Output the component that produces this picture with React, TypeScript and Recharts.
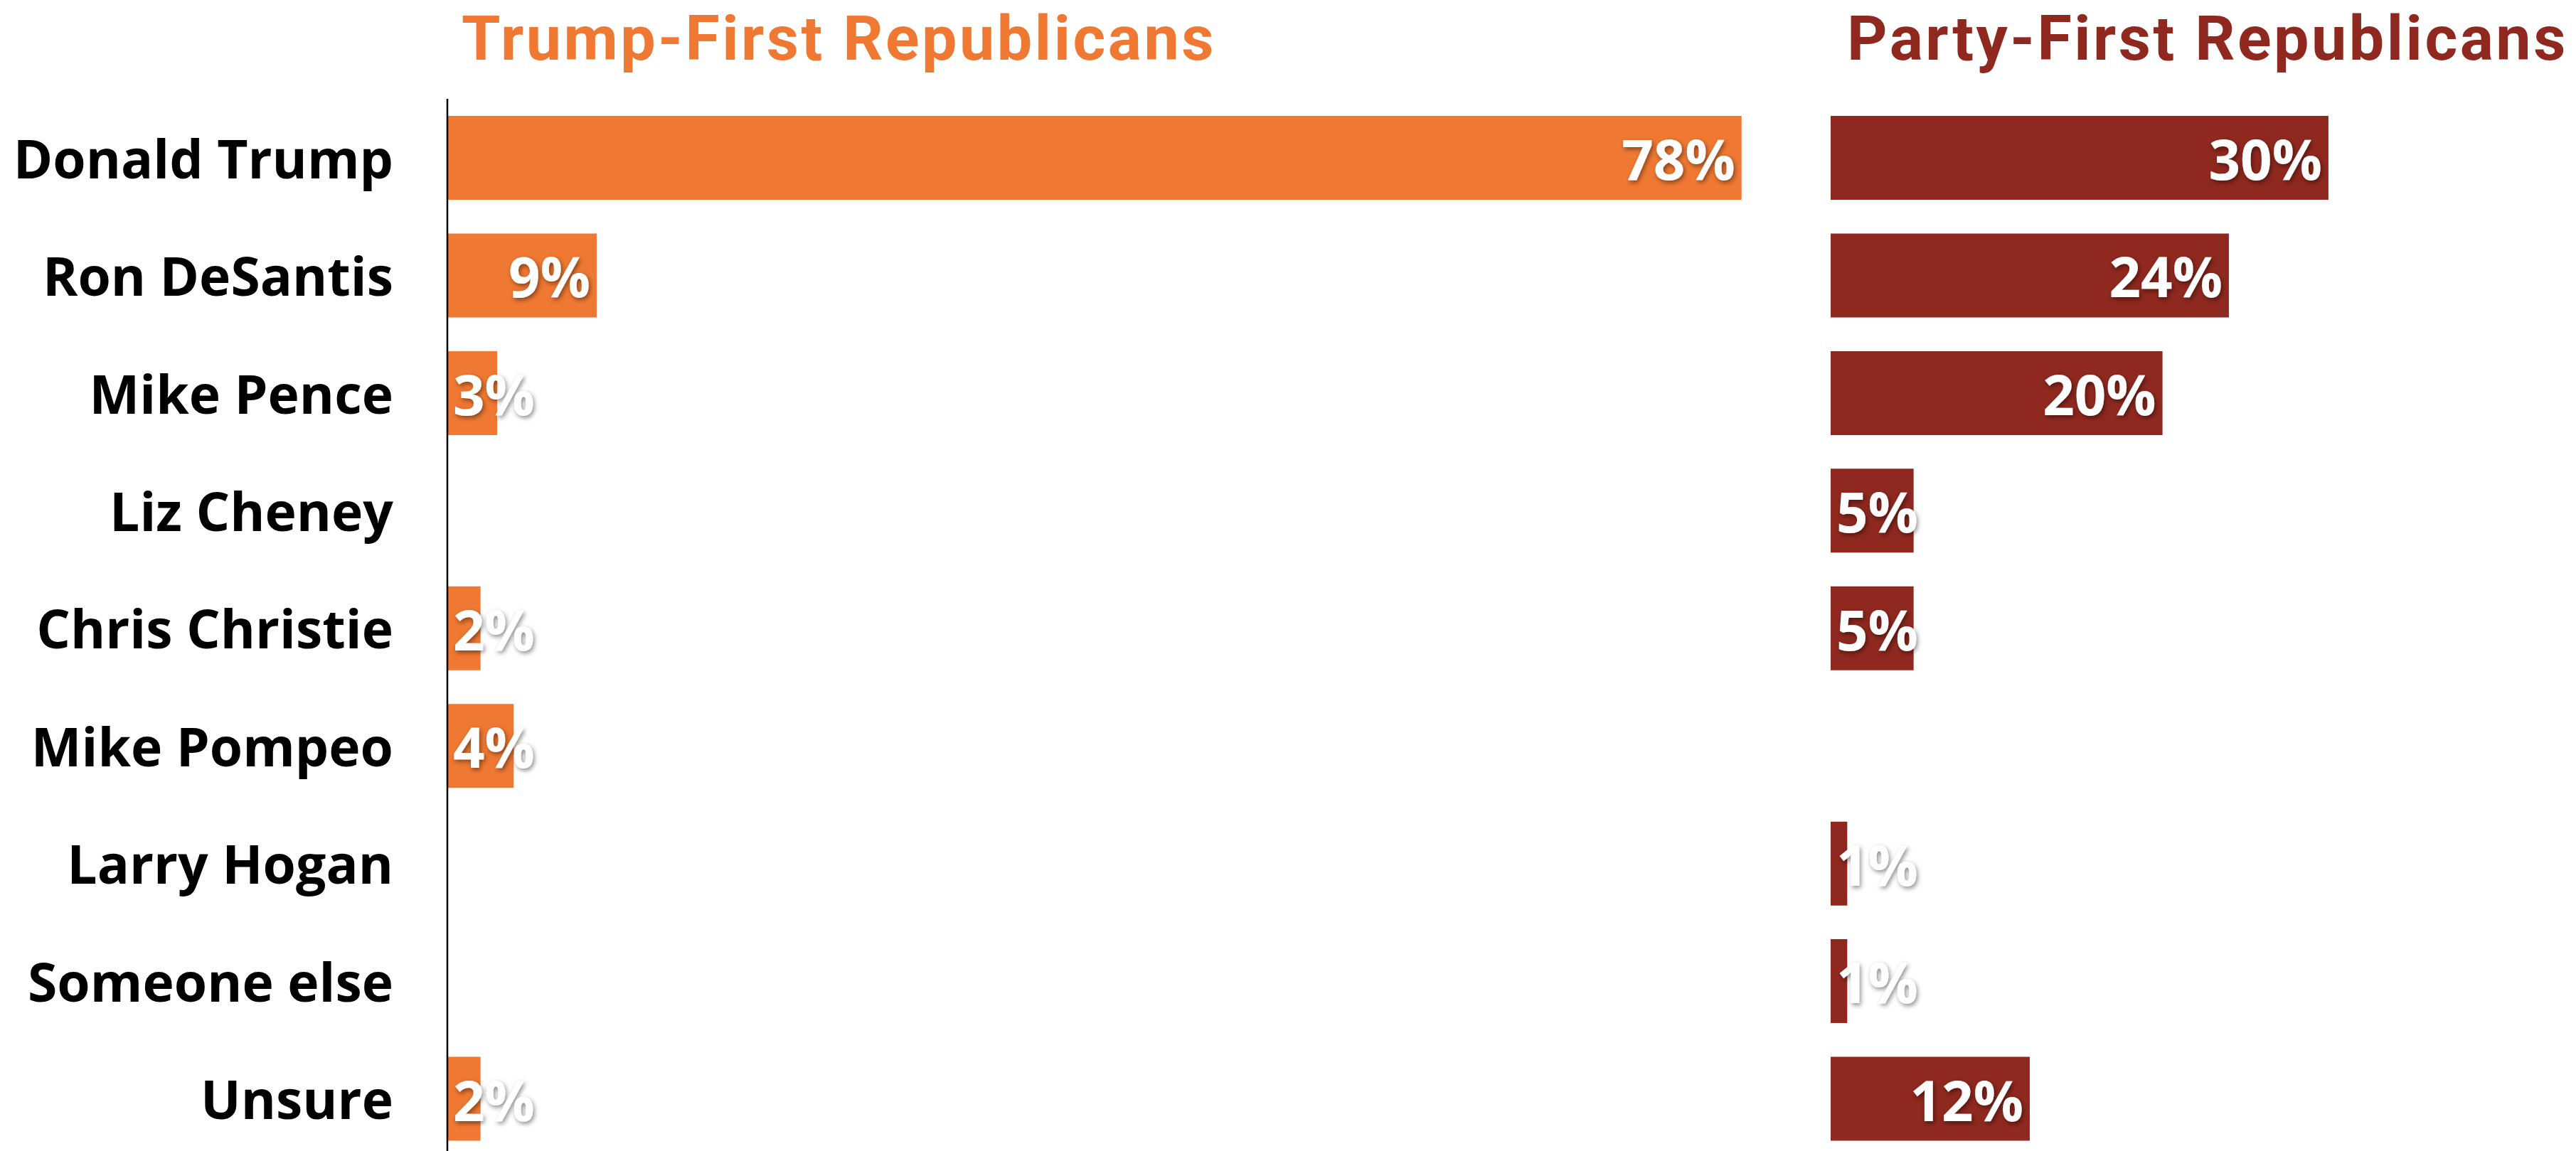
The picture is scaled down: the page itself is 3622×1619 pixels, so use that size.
import React from 'react';
import { BarChart, Bar, XAxis, YAxis, LabelList } from 'recharts';

const candidates = [
  'Donald Trump',
  'Ron DeSantis',
  'Mike Pence',
  'Liz Cheney',
  'Chris Christie',
  'Mike Pompeo',
  'Larry Hogan',
  'Someone else',
  'Unsure',
];
const trumpFirst = [78, 9, 3, 0, 2, 4, 0, 0, 2];
const partyFirst = [30, 24, 20, 5, 5, 0, 1, 1, 12];

const ORANGE = '#EF7832';
const DARK_RED = '#8F281E';
const FONT = '"Open Sans", Roboto, sans-serif';
const TITLE_FONT = 'Roboto, "Open Sans", sans-serif';

const data = candidates.map((name, i) => ({
  name,
  trump: trumpFirst[i],
  party: partyFirst[i],
}));

const PX_PER_PCT = 23.33;
const CHART_H = 1628;
const TOP = 139;

const renderValue = (props: any) => {
  const { x, y, width, height, value } = props;
  if (!value) return null;
  const textW = String(value).length * 52 + 70;
  const inside = width >= textW + 18;
  return (
    <text
      x={inside ? x + width - 9 : x + 8}
      y={y + height / 2 + 31}
      textAnchor={inside ? 'end' : 'start'}
      fill="#fff"
      fontFamily={FONT}
      fontSize={78}
      fontWeight={700}
      filter="url(#valShadow)"
    >
      {value}%
    </text>
  );
};

const CategoryTick = (props: any) => {
  const { y, payload } = props;
  return (
    <text
      x={553}
      y={y + 29}
      textAnchor="end"
      fill="#000"
      fontFamily={FONT}
      fontSize={75}
      fontWeight={700}
    >
      {payload.value}
    </text>
  );
};

const Shadow = () => (
  <defs>
    <filter id="valShadow" x="-20%" y="-30%" width="140%" height="160%">
      <feDropShadow dx="2" dy="3" stdDeviation="3" floodColor="#000" floodOpacity="0.45" />
    </filter>
  </defs>
);

// Roboto metrics: baseline sits about 74px below the top of a 88px line-height:1 box
const titleStyle = (color: string, left: number): React.CSSProperties => ({
  position: 'absolute',
  left,
  top: 10,
  fontFamily: TITLE_FONT,
  fontWeight: 700,
  fontSize: 88,
  lineHeight: 1,
  letterSpacing: 3.5,
  color,
  whiteSpace: 'nowrap',
});

const App = () => {
  const leftDomainMax = 80;
  const rightDomainMax = 44;
  const leftAxisX = 629;
  const rightAxisX = 2574;
  return (
    <div
      style={{
        position: 'fixed',
        left: 0,
        top: 0,
        width: 3622,
        height: 1619,
        overflow: 'hidden',
        background: '#fff',
      }}
    >
      <div style={titleStyle(ORANGE, 649)}>Trump-First Republicans</div>
      <div style={titleStyle(DARK_RED, 2597)}>Party-First Republicans</div>

      <div style={{ position: 'absolute', left: 0, top: 0 }}>
        <BarChart
          width={leftAxisX + leftDomainMax * PX_PER_PCT}
          height={CHART_H}
          data={data}
          layout="vertical"
          margin={{ top: TOP, right: 0, bottom: 0, left: 0 }}
        >
          <Shadow />
          <XAxis type="number" hide domain={[0, leftDomainMax]} />
          <YAxis
            type="category"
            dataKey="name"
            width={leftAxisX}
            axisLine={{ stroke: '#000', strokeWidth: 2.5 }}
            tickLine={false}
            tick={<CategoryTick />}
            interval={0}
          />
          <Bar dataKey="trump" fill={ORANGE} barSize={118} isAnimationActive={false}>
            <LabelList dataKey="trump" content={renderValue} />
          </Bar>
        </BarChart>
      </div>

      <div style={{ position: 'absolute', left: rightAxisX - 10, top: 0 }}>
        <BarChart
          width={10 + rightDomainMax * PX_PER_PCT}
          height={CHART_H}
          data={data}
          layout="vertical"
          margin={{ top: TOP, right: 0, bottom: 0, left: 10 }}
        >
          <Shadow />
          <XAxis type="number" hide domain={[0, rightDomainMax]} />
          <YAxis
            type="category"
            dataKey="name"
            width={0}
            axisLine={{ stroke: '#000', strokeWidth: 2.5 }}
            tickLine={false}
            tick={false}
          />
          <Bar dataKey="party" fill={DARK_RED} barSize={118} isAnimationActive={false}>
            <LabelList dataKey="party" content={renderValue} />
          </Bar>
        </BarChart>
      </div>
    </div>
  );
};

export default App;
